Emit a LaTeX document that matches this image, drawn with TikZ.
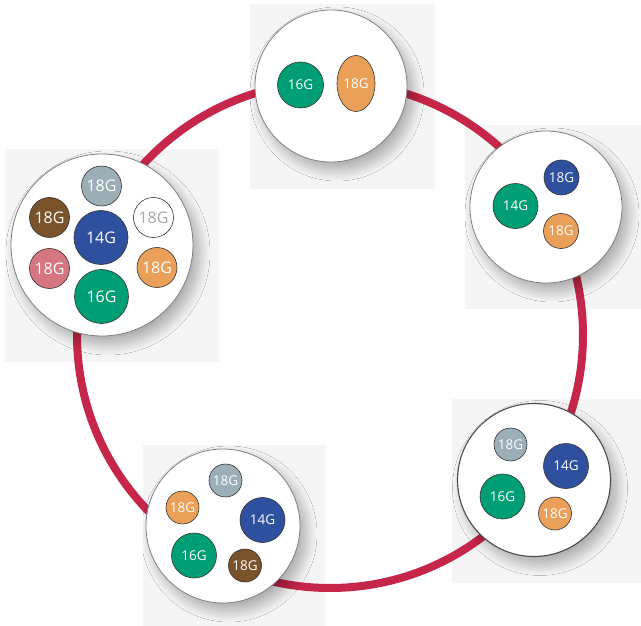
\documentclass[tikz,border=0pt]{standalone}
\usepackage{fontspec}
\setmainfont{Open Sans}
\usetikzlibrary{shapes.geometric,shadows.blur}
\definecolor{ringred}{HTML}{C52649}
\definecolor{bggray}{HTML}{F5F5F5}
\definecolor{wgreen}{HTML}{009E74}
\definecolor{wblue}{HTML}{2E509F}
\definecolor{worange}{HTML}{EBA05A}
\definecolor{wgray}{HTML}{9CAEB6}
\definecolor{wbrown}{HTML}{7A532A}
\definecolor{wpink}{HTML}{D67680}
\definecolor{wtext}{HTML}{A8A8A8}
\tikzset{
  panel/.style={fill=bggray},
  ring/.style={draw=ringred, line width=8pt},
  port/.style={circle, draw=black!50, line width=0.8pt, fill=white, inner sep=0pt,
    blur shadow={shadow xshift=6pt, shadow yshift=-8pt, shadow blur radius=11pt, shadow blur steps=20, shadow opacity=32}},
  wire/.style={circle, draw=black!80, line width=0.6pt, inner sep=0pt, text=white,
    font=\fontsize{13.5}{13.5}\selectfont},
  bigwire/.style={wire, font=\fontsize{16}{16}\selectfont},
}
\begin{document}
\begin{tikzpicture}[x=1pt,y=-1pt]
\useasboundingbox (0,0) rectangle (641,626);
% panels
\fill[panel] (5,149) rectangle (219,362);
\fill[panel] (250,4) rectangle (435,189);
\fill[panel] (465,125) rectangle (641,309);
\fill[panel] (452,399) rectangle (641,583);
\fill[panel] (143,445) rectangle (325,626);
% ring
\coordinate (rc) at (330,335);
\draw[ring] (rc) circle[radius=253pt];
% connector ports
\node[port, minimum size=182pt] (pl) at (102,245) {};
\node[port, minimum size=152pt] (pt) at (331,86) {};
\node[port, minimum size=152pt] (pr) at (546,207) {};
\node[port, minimum size=153pt, draw=black!70, line width=1.1pt] (pbr) at (534,480) {};
\node[port, minimum size=154pt] (pbl) at (223,526) {};
% left port
\node[bigwire, fill=wgray, minimum size=40pt] (l1) at (101.5,186) {18G};
\node[bigwire, fill=wbrown, minimum size=40pt] (l2) at (49.5,217.5) {18G};
\node[bigwire, fill=wblue, minimum size=54pt] (l3) at (101,237.5) {14G};
\node[bigwire, fill=white, text=wtext, minimum size=40pt] (l4) at (153.5,217.5) {18G};
\node[bigwire, fill=wpink, minimum size=40pt] (l5) at (49.5,268.5) {18G};
\node[bigwire, fill=worange, minimum size=40pt] (l6) at (157,267.5) {18G};
\node[bigwire, fill=wgreen, minimum size=54pt] (l7) at (101.5,296.5) {16G};
% top port
\node[wire, fill=wgreen, minimum size=46pt] (t1) at (300.5,85) {16G};
\node[wire, ellipse, fill=worange, minimum width=38pt, minimum height=56pt] (t2) at (356,83.5) {18G};
% right port
\node[wire, fill=wblue, minimum size=35pt] (r1) at (561.5,177.5) {18G};
\node[wire, fill=wgreen, minimum size=45pt] (r2) at (515.5,206) {14G};
\node[wire, fill=worange, minimum size=35pt] (r3) at (561,231) {18G};
% bottom right port
\node[wire, fill=wgray, minimum size=33pt] (b1) at (510.5,444.5) {18G};
\node[wire, fill=wblue, minimum size=45pt] (b2) at (566,466) {14G};
\node[wire, fill=wgreen, minimum size=45pt] (b3) at (502.5,496.5) {16G};
\node[wire, fill=worange, minimum size=33pt] (b4) at (555,513.5) {18G};
% bottom left port
\node[wire, fill=wgray, minimum size=33pt] (c1) at (225.5,480.5) {18G};
\node[wire, fill=worange, minimum size=33pt] (c2) at (182.5,507.5) {18G};
\node[wire, fill=wblue, minimum size=45pt] (c3) at (262.5,520) {14G};
\node[wire, fill=wgreen, minimum size=45pt] (c4) at (194,555.5) {16G};
\node[wire, fill=wbrown, minimum size=33pt] (c5) at (245,565.5) {18G};
\end{tikzpicture}
\end{document}
